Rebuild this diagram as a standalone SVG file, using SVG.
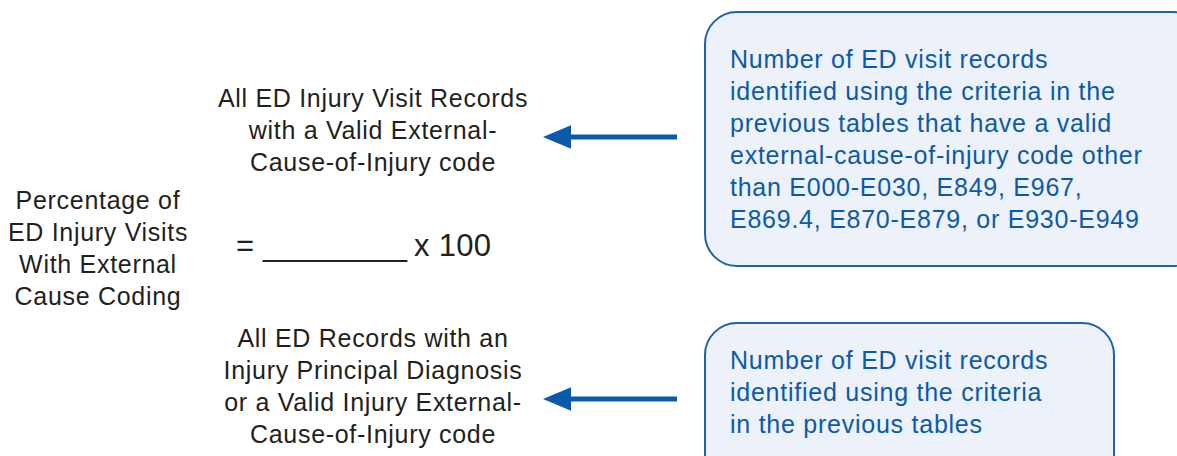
<svg xmlns="http://www.w3.org/2000/svg" width="1177" height="456" viewBox="0 0 1177 456">
  <defs>
    <style>
      .dark { font-family: "Liberation Sans", Arial, sans-serif; font-size: 25px; fill: #231f20; letter-spacing: 0.7px; text-anchor: middle; }
      .eq { font-family: "Liberation Sans", Arial, sans-serif; font-size: 31px; fill: #231f20; }
      .blue { font-family: "Liberation Sans", Arial, sans-serif; font-size: 25px; fill: #0b5aa9; letter-spacing: 0.75px; }
      .box { fill: #edf1f9; stroke: #1f62ac; stroke-width: 2; }
      .conn { stroke: #0b5aa9; stroke-width: 5; fill: none; }
    </style>
    <marker id="head" markerUnits="userSpaceOnUse" viewBox="0 -12 28 24" refX="0" refY="0" markerWidth="28" markerHeight="24" orient="auto">
      <path d="M0,-11.7 L28,0 L0,11.7 Z" fill="#0b5aa9"/>
    </marker>
  </defs>

  <g id="label-percentage">
    <text class="dark" x="98" y="209">Percentage of</text>
    <text class="dark" x="98" y="241">ED Injury Visits</text>
    <text class="dark" x="98" y="273">With External</text>
    <text class="dark" x="98" y="305">Cause Coding</text>
  </g>

  <g id="numerator">
    <text class="dark" x="373" y="107">All ED Injury Visit Records</text>
    <text class="dark" x="373" y="139">with a Valid External-</text>
    <text class="dark" x="373" y="171">Cause-of-Injury code</text>
  </g>

  <g id="equation">
    <text class="eq" x="236" y="256">=</text>
    <text class="eq" x="263" y="256" textLength="144" lengthAdjust="spacingAndGlyphs">________</text>
    <text class="eq" x="414" y="256" letter-spacing="0.3">x 100</text>
  </g>

  <g id="denominator">
    <text class="dark" x="373" y="347">All ED Records with an</text>
    <text class="dark" x="373" y="379">Injury Principal Diagnosis</text>
    <text class="dark" x="373" y="411">or a Valid Injury External-</text>
    <text class="dark" x="373" y="443">Cause-of-Injury code</text>
  </g>

  <g id="box-numerator">
    <rect class="box" x="705" y="12" width="500" height="254" rx="32" ry="32"/>
    <text class="blue" x="730" y="68">Number of ED visit records</text>
    <text class="blue" x="730" y="100">identified using the criteria in the</text>
    <text class="blue" x="730" y="132">previous tables that have a valid</text>
    <text class="blue" x="730" y="164">external-cause-of-injury code other</text>
    <text class="blue" x="730" y="196">than E000-E030, E849, E967,</text>
    <text class="blue" x="730" y="228">E869.4, E870-E879, or E930-E949</text>
  </g>

  <g id="box-denominator">
    <rect class="box" x="705" y="323" width="409" height="180" rx="32" ry="32"/>
    <text class="blue" x="730" y="369">Number of ED visit records</text>
    <text class="blue" x="730" y="401">identified using the criteria</text>
    <text class="blue" x="730" y="433">in the previous tables</text>
  </g>

  <g id="connectors">
    <line class="conn" x1="677" y1="137" x2="571" y2="137" marker-end="url(#head)"/>
    <line class="conn" x1="677" y1="399" x2="571" y2="399" marker-end="url(#head)"/>
  </g>
</svg>
